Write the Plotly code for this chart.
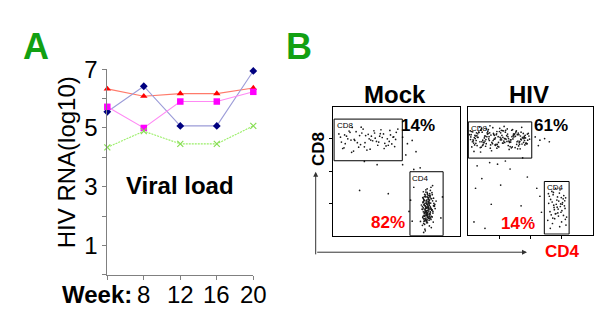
import plotly.graph_objects as go

W, H = 600, 323
FONT = "Liberation Sans, Arial, sans-serif"

# ---------------- Panel A data ----------------
week_pos = [4, 8, 12, 16, 20]
week_labels = ["", "8", "12", "16", "20"]
red_vals = [6.33, 6.08, 6.17, 6.17, 6.36]
blue_vals = [5.55, 6.42, 5.07, 5.07, 6.94]
pink_vals = [5.72, 5.00, 5.90, 5.90, 6.23]
green_vals = [4.34, 4.89, 4.46, 4.46, 5.07]
y_ticks = [0, 1, 2, 3, 4, 5, 6, 7]
y_ticklabels = ["", "1", "", "3", "", "5", "", "7"]

# ---------------- Panel B data ----------------
mock_cd8_x = [0.25,0.40,0.55,0.70,0.85,1.00,1.15,1.30,1.45,1.60,1.75,1.90,2.05,0.32,0.48,0.62,0.78,0.92,1.08,1.22,1.38,1.52,1.68,1.82,1.98,0.20,0.36,0.58,0.74,0.88,1.04,1.18,1.34,1.50,1.64,1.80,1.95,0.44,0.66,0.96,1.26,1.56,1.86,0.28,0.52,0.82,1.12,1.42,1.72,2.00,0.38,0.68,1.02,1.32,1.62,1.92,0.60,0.90,1.20,1.48,1.78]
mock_cd8_y = [3.05,2.85,3.20,2.95,3.10,2.75,3.00,3.25,2.90,3.15,2.80,3.05,3.30,2.70,3.00,3.35,2.88,3.18,2.65,3.08,2.92,3.28,2.78,3.12,2.98,3.15,2.72,2.96,3.22,2.82,3.10,2.68,3.02,3.16,2.86,3.26,2.76,3.08,2.62,3.30,2.94,3.04,2.84,2.90,3.24,2.74,3.14,2.80,3.00,3.20,3.12,2.98,2.88,3.18,2.70,3.06,2.58,3.36,2.96,3.08,2.92]
mock_cd4_x = [3.02,2.95,3.10,2.88,3.05,2.98,3.15,2.92,3.00,3.08,2.85,3.12,2.97,3.04,2.90,3.18,2.94,3.06,3.01,2.87,3.11,2.99,3.03,2.93,3.09,2.81,3.14,2.96,3.07,2.89,3.20,2.91,3.00,3.13,2.84,3.05,2.98,3.16,2.93,3.02,2.79,3.10,2.95,3.06,2.88,3.22,3.01,2.97,3.09,2.86,3.04,2.92,3.17,2.99,3.03,2.83,3.12,2.94,3.07,2.90,3.25,2.96,3.00,3.11,2.87,3.05,2.93,3.15,2.98,3.02,2.76,3.08,2.95,3.13,2.89,3.19,2.91,3.04,3.00,2.85,3.10,2.97,3.06,2.92,3.21,2.82,3.03,2.99,3.14,2.94,3.07,2.88,3.01,3.17,2.86,3.09,2.96,3.02,2.90,3.12]
mock_cd4_y = [0.85,1.10,0.60,0.95,1.30,0.40,0.75,1.20,0.90,0.55,1.05,0.80,1.45,0.30,0.70,1.00,0.65,1.25,0.88,0.45,1.15,0.72,0.98,1.35,0.50,0.82,1.08,0.62,1.40,0.35,0.92,0.78,1.18,0.58,1.02,0.68,1.28,0.42,0.87,1.12,0.95,0.25,0.76,1.22,0.52,0.84,1.05,0.66,1.50,0.38,0.94,0.73,1.16,0.57,1.00,0.81,1.33,0.47,0.89,0.20,1.07,0.63,1.24,0.79,0.96,0.53,1.42,0.70,0.86,1.13,0.44,1.01,0.77,1.27,0.60,0.91,0.15,1.09,0.67,1.36,0.83,0.49,1.19,0.74,0.97,0.32,1.04,0.61,1.55,0.85,0.71,1.21,0.54,0.93,0.10,1.14,0.69,1.03,0.46,0.80]
mock_cd4_core_x = [2.90,2.95,3.00,2.85,2.92,2.97,3.04,2.88,2.94,2.99,3.06,2.83,2.91,2.96,3.02,2.87,2.93,2.98,3.08,2.86,2.90,2.95,3.01,2.84,2.92,2.97,3.03,2.89,2.94,3.00,3.05,2.82,2.91,2.96,3.02,2.88,2.93,2.99,3.07,2.85,2.90,2.95,3.00,2.87,2.92,2.98,3.04,2.83,2.94,2.97,3.01,2.89,2.93,2.99,3.06,2.86,2.91,2.96,3.03,2.84,2.90,2.95,3.00,2.88,2.92,2.97,3.05,2.85,2.94,2.98]
mock_cd4_core_y = [0.62,0.88,1.12,0.74,0.50,0.96,1.24,0.68,1.04,0.56,0.82,1.18,0.92,0.44,0.76,1.08,0.64,1.30,0.86,0.52,1.00,0.72,1.14,0.60,0.84,1.20,0.48,0.94,0.70,1.06,0.58,0.90,1.26,0.66,0.80,1.10,0.54,0.98,0.74,1.16,0.46,0.88,1.02,0.62,1.22,0.78,0.94,0.56,1.08,0.70,0.84,1.28,0.50,0.92,0.66,1.12,0.76,0.98,0.60,1.04,0.82,0.40,1.18,0.72,0.90,1.34,0.64,0.86,1.00,0.58]
mock_out_x = [2.20,2.35,2.50,2.62,2.30,1.40,1.00,0.85,1.75,2.55,2.75,2.45,2.50,2.40,3.45,3.40,2.55,2.20]
mock_out_y = [3.05,2.85,2.95,2.60,2.50,2.20,2.30,1.40,1.30,2.05,2.10,1.10,0.45,0.75,1.20,0.55,1.50,2.20]

hiv_cd8_x = [0.10,0.22,0.35,0.48,0.60,0.72,0.85,0.98,1.10,1.22,1.35,1.48,1.60,1.72,1.85,1.95,
             0.15,0.28,0.40,0.53,0.66,0.79,0.91,1.04,1.16,1.29,1.41,1.54,1.67,1.79,1.90,
             0.08,0.19,0.31,0.44,0.57,0.69,0.82,0.94,1.07,1.19,1.32,1.45,1.57,1.70,1.82,1.97,
             0.13,0.25,0.38,0.50,0.63,0.76,0.88,1.01,1.13,1.26,1.38,1.51,1.63,1.76,1.88,
             0.06,0.17,0.30,0.42,0.55,0.68,0.80,0.93,1.05,1.18,1.30,1.43,1.56,1.68,1.81,1.93,
             0.20,0.33,0.46,0.59,0.71,0.84,0.96,1.09,1.21,1.34,1.46,1.59,1.74,1.86,
             0.12,0.27,0.41,0.56,0.70,0.87,1.02,1.15,1.28,1.42,1.55,1.69,1.83,
             0.24,0.45,0.65,0.90,1.12,1.36,1.58,1.78]
hiv_cd8_y = [3.05,2.80,3.20,2.95,3.30,2.70,3.10,2.88,3.25,2.98,2.75,3.15,2.92,3.35,2.85,3.08,
             2.90,3.18,2.72,3.02,3.28,2.84,3.12,2.96,3.38,2.78,3.06,3.22,2.68,3.00,3.14,
             3.24,2.86,3.04,3.32,2.76,2.94,3.16,2.82,3.26,3.00,2.66,3.10,2.90,3.20,2.80,2.98,
             2.74,3.08,3.36,2.88,3.14,2.62,3.02,3.22,2.86,3.30,2.96,2.72,3.12,3.04,2.84,
             3.12,2.96,2.78,3.26,2.92,3.06,3.34,2.70,3.18,2.88,3.00,3.28,2.82,3.08,2.94,3.16,
             2.60,3.04,3.20,2.84,3.40,2.98,2.76,3.10,3.26,2.90,3.14,2.68,3.02,2.86,
             3.22,2.94,2.58,3.08,3.18,2.80,3.32,2.92,3.06,2.74,3.24,2.98,3.10,
             3.00,2.90,3.16,2.82,3.04,2.96,3.12,2.88]
hiv_cd8_extra_x = [0.18,0.32,0.47,0.61,0.77,0.93,1.08,1.24,1.39,1.53,1.66,1.80,0.11,0.26,0.42,0.58,0.74,0.89,1.06,1.20,1.37,1.52,1.65,1.77,1.91,0.21,0.36,0.52,0.67,0.83,0.99,1.14,1.31,1.47,1.61,1.73,0.09,0.29,0.49,0.64,0.81,0.97,1.11,1.27,1.44,1.62,1.84,0.16,0.39,0.54,0.73,0.92,1.17,1.33,1.49,1.71,1.89,0.23,0.43,0.62,0.86,1.03,1.25,1.40,1.64,1.80]
hiv_cd8_extra_y = [2.93,3.15,2.78,3.06,2.88,3.22,2.96,3.09,2.71,3.18,2.91,3.03,3.12,2.85,3.27,2.97,3.11,2.79,3.01,3.20,2.89,3.07,2.82,3.16,2.95,3.03,3.19,2.87,2.99,3.13,2.74,3.24,2.92,3.05,3.17,2.83,2.97,3.09,2.81,3.23,2.94,3.06,2.86,3.14,2.99,2.77,3.02,3.21,2.90,3.08,2.80,3.15,3.00,2.88,3.12,2.96,2.84,3.10,2.73,3.18,2.98,3.04,2.91,3.26,2.87,3.07]
hiv_cd4_x = [2.60,2.75,2.90,3.05,2.68,2.82,2.97,3.12,2.55,2.72,2.88,3.02,3.15,2.64,2.79,2.94,3.08,2.70,2.86,3.00,2.58,2.77,2.92,3.10,2.66,2.84,2.99,3.06,2.74,2.89,3.04,2.62,2.80,2.95,3.13,2.69,2.87,3.01,2.57,2.76,2.93,3.09,2.71,2.85,2.98,2.63,2.81,2.96,3.11,2.73]
hiv_cd4_y = [1.20,0.85,1.05,0.60,1.35,0.95,0.70,1.15,0.45,1.25,0.80,1.00,0.55,1.10,0.65,1.40,0.90,0.35,1.18,0.75,0.98,0.50,1.30,0.82,0.62,1.08,0.40,1.22,0.92,0.58,1.12,0.72,1.45,0.88,0.30,1.02,0.68,0.95,1.28,0.78,0.25,1.06,0.52,0.86,1.16,0.20,0.66,0.96,0.48,1.32]
hiv_out_x = [2.15,2.30,2.45,2.60,2.25,0.30,0.70,1.35,1.90,0.25,0.75,0.20,1.05,1.70,2.05,1.40,0.45,2.30,2.35,1.20,0.95,1.75,2.20,0.55]
hiv_out_y = [3.05,2.95,3.00,2.90,2.78,2.15,2.25,2.05,1.80,1.45,0.95,0.40,1.55,0.90,0.45,0.25,1.75,1.20,0.70,2.30,2.20,2.40,1.45,0.20]

# gates: [x0, x1, y0, y1] in plot units
mock_cd8_gate = [0.05, 2.19, 2.32, 3.61]
mock_cd4_gate = [2.43, 3.47, 0.0, 1.98]
hiv_cd8_gate = [0.02, 2.04, 2.39, 3.52]
hiv_cd4_gate = [2.44, 3.23, 0.02, 1.66]

def px(x):
    return x / W

def py(y):
    return 1 - y / H

fig = go.Figure()

# Panel A traces
fig.add_trace(go.Scatter(x=week_pos, y=red_vals, mode="lines+markers",
                         line=dict(color="#ff7a6a", width=1.1),
                         marker=dict(symbol="triangle-up", size=6.5, color="#ff0000"),
                         cliponaxis=False, xaxis="x", yaxis="y"))
fig.add_trace(go.Scatter(x=week_pos, y=blue_vals, mode="lines+markers",
                         line=dict(color="#9c9cd8", width=1.1),
                         marker=dict(symbol="diamond", size=6, color="#000080"),
                         cliponaxis=False, xaxis="x", yaxis="y"))
fig.add_trace(go.Scatter(x=week_pos, y=pink_vals, mode="lines+markers",
                         line=dict(color="#ff88f4", width=1.1),
                         marker=dict(symbol="square", size=6.5, color="#ff00ff"),
                         cliponaxis=False, xaxis="x", yaxis="y"))
fig.add_trace(go.Scatter(x=week_pos, y=green_vals, mode="lines+markers",
                         line=dict(color="#99ee66", width=1.1, dash="2px,1px"),
                         marker=dict(symbol="x-thin", size=6, color="#88dd55",
                                     line=dict(width=1.2, color="#88dd55")),
                         cliponaxis=False, xaxis="x", yaxis="y"))

dot = dict(size=1.7, color="#1a1a1a")
for xs, ys, ax, ay in [(mock_cd8_x, mock_cd8_y, "x2", "y2"),
                       (mock_cd4_x, mock_cd4_y, "x2", "y2"),
                       (mock_cd4_core_x, mock_cd4_core_y, "x2", "y2"),
                       (mock_out_x, mock_out_y, "x2", "y2"),
                       (hiv_cd8_x, hiv_cd8_y, "x3", "y3"),
                       (hiv_cd8_extra_x, hiv_cd8_extra_y, "x3", "y3"),
                       (hiv_cd4_x, hiv_cd4_y, "x3", "y3"),
                       (hiv_out_x, hiv_out_y, "x3", "y3")]:
    n = min(len(xs), len(ys))
    fig.add_trace(go.Scatter(x=xs[:n], y=ys[:n], mode="markers", marker=dot,
                             xaxis=ax, yaxis=ay, hoverinfo="skip"))

shapes = []
for g, xr, yr in [(mock_cd8_gate, "x2", "y2"), (mock_cd4_gate, "x2", "y2"),
                  (hiv_cd8_gate, "x3", "y3"), (hiv_cd4_gate, "x3", "y3")]:
    shapes.append(dict(type="rect", xref=xr, yref=yr, x0=g[0], x1=g[1], y0=g[2], y1=g[3],
                       line=dict(color="black", width=1)))

axA = dict(showgrid=False, zeroline=False, showline=True, linecolor="#808080", linewidth=1,
           ticks="outside", ticklen=4, tickcolor="#808080",
           tickfont=dict(family=FONT, size=24, color="black"))
frame = dict(showgrid=False, zeroline=False, showline=True, mirror=True,
             linecolor="black", linewidth=1, range=[0, 4], showticklabels=False)

annotations = []
def txt(t, x, y, size, color="black", bold=False, angle=0, xa="center", ya="middle",
        xref="paper"):
    annotations.append(dict(text=("<b>%s</b>" % t) if bold else t,
                            x=px(x) if xref == "paper" else x, y=py(y),
                            xref=xref, yref="paper", showarrow=False,
                            xanchor=xa, yanchor=ya, textangle=angle,
                            font=dict(family=FONT, size=size, color=color)))

txt("A", 36, 34, 36, "#12a012", True)
txt("B", 299, 34, 36, "#12a012", True)
txt("HIV RNA(log10)", 66, 155, 24, angle=-90)
txt("Viral load", 180, 179, 24, bold=True)
txt("Week:", 97, 293, 24, bold=True)
for wp, wl in zip(week_pos, week_labels):
    if wl:
        txt(wl, wp, 293, 24, xref="x")
txt("Mock", 395, 84, 24, bold=True)
txt("HIV", 529, 84, 24, bold=True)
txt("CD8", 318.5, 141.7, 17, bold=True, angle=-90)
txt("CD4", 562.5, 248.5, 17, "#ff0000", True)
txt("14%", 417.5, 116.7, 17, bold=True)
txt("82%", 387.5, 217.5, 17, "#ff0000", True)
txt("61%", 551, 116.5, 17, bold=True)
txt("14%", 517.5, 218.5, 17, "#ff0000", True)
txt("CD8", 334.5, 110, 8, xa="left", ya="top")
txt("CD4", 410, 165, 8, xa="left", ya="top")
txt("CD8", 468.5, 112.5, 8, xa="left", ya="top")
txt("CD4", 544.5, 175, 8, xa="left", ya="top")

# axis arrows
annotations.append(dict(x=px(315.7), y=py(165), xref="paper", yref="paper",
                        ax=0, ay=84, axref="pixel", ayref="pixel", showarrow=True,
                        arrowhead=2, arrowsize=1, arrowwidth=1, arrowcolor="#333333", text=""))
annotations.append(dict(x=px(527), y=py(249), xref="paper", yref="paper",
                        ax=-211.3, ay=0, axref="pixel", ayref="pixel", showarrow=True,
                        arrowhead=2, arrowsize=1, arrowwidth=1, arrowcolor="#333333", text=""))

fig.update_layout(
    width=W, height=H, margin=dict(l=0, r=0, t=0, b=0),
    paper_bgcolor="white", plot_bgcolor="white", showlegend=False,
    xaxis=dict(axA, domain=[px(107.3), px(253.3)], range=[4, 20],
               tickvals=week_pos, showticklabels=False, anchor="y"),
    yaxis=dict(axA, domain=[py(272.7), py(57.7)], range=[0, 7],
               tickvals=y_ticks, ticktext=y_ticklabels, anchor="x"),
    xaxis2=dict(frame, domain=[px(332.5), px(460)], anchor="y2"),
    yaxis2=dict(frame, domain=[py(231.7), py(96.7)], anchor="x2",
                ticks="outside", ticklen=3, tickvals=[1, 2, 3], tickcolor="black"),
    xaxis3=dict(frame, domain=[px(467.7), px(593.3)], anchor="y3",
                ticks="outside", ticklen=3, tickvals=[1, 2, 3], tickcolor="black"),
    yaxis3=dict(frame, domain=[py(230.7), py(96.7)], anchor="x3"),
    shapes=shapes, annotations=annotations,
)

fig.write_html("out.html")
